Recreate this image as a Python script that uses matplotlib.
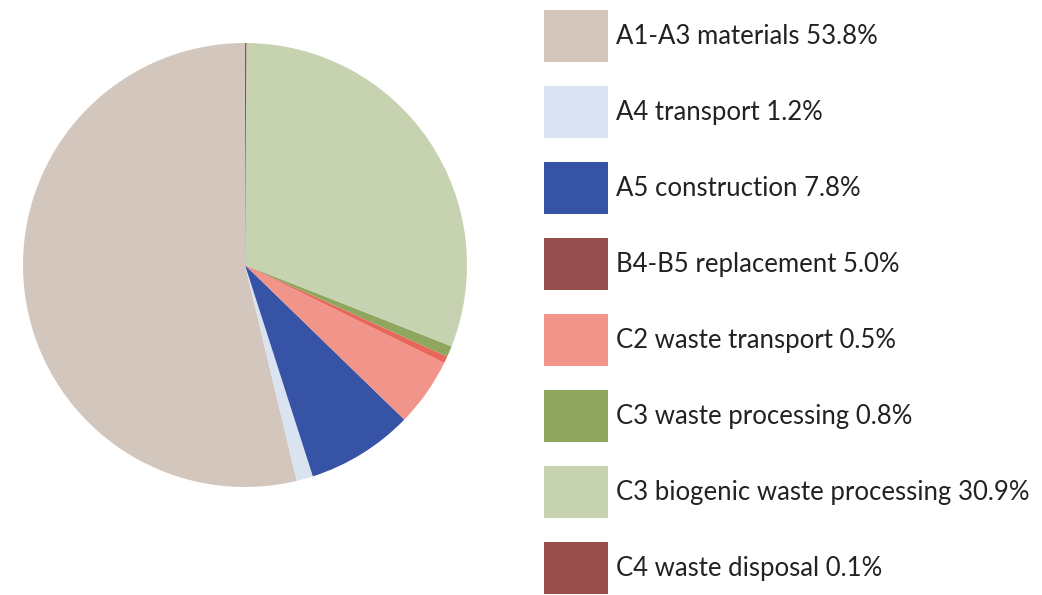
import matplotlib
matplotlib.use('Agg')
import matplotlib.pyplot as plt
from matplotlib.patches import Patch

# Share of life-cycle emissions per stage
labels = ['A1-A3 materials', 'A4 transport', 'A5 construction', 'B4-B5 replacement',
          'C2 waste transport', 'C3 waste processing', 'C3 biogenic waste processing',
          'C4 waste disposal']
shares = [53.8, 1.2, 7.8, 5.0, 0.5, 0.8, 30.9, 0.1]

pie_colors = ['#D3C6BC', '#D9E3F2', '#3653A5', '#F1948A', '#E8675A', '#8FA65F',
              '#C6D2B0', '#9A4D4D']
legend_colors = ['#D3C6BC', '#D9E3F2', '#3653A5', '#954D4D', '#F1948A', '#8FA65F',
                 '#C6D2B0', '#9A4D4D']

plt.rcParams['font.family'] = ['Lato', 'DejaVu Sans']

W, H = 1042, 595
fig = plt.figure(figsize=(W / 100, H / 100), dpi=100)

# pie axes: centre (245, 265), radius 222 px
cx, cy, r = 245, 265, 222
ax = fig.add_axes([(cx - r) / W, (H - cy - r) / H, 2 * r / W, 2 * r / H])
ax.pie(shares, colors=pie_colors, startangle=90, counterclock=True,
       wedgeprops=dict(linewidth=0))
ax.set_xlim(-1, 1)
ax.set_ylim(-1, 1)
ax.set_aspect('equal')
ax.axis('off')

# legend with large square swatches
handles = [Patch(facecolor=c, edgecolor='none') for c in legend_colors]
texts = [f'{l} {v:.1f}%' for l, v in zip(labels, shares)]
fs = 18.5
fpx = fs * 100 / 72
box_w, box_h, pitch = 64, 52, 76
hh = (box_h / fpx - 0.245) / 0.65
fig.legend(handles, texts, loc='upper left', bbox_to_anchor=(544 / W, 1 - 10 / H),
           frameon=False, fontsize=fs, borderpad=0, borderaxespad=0,
           handlelength=box_w / fpx, handleheight=hh,
           handletextpad=0.3, labelspacing=(pitch - box_h) / fpx,
           labelcolor='#222222')

fig.savefig('out.png', dpi=100)
